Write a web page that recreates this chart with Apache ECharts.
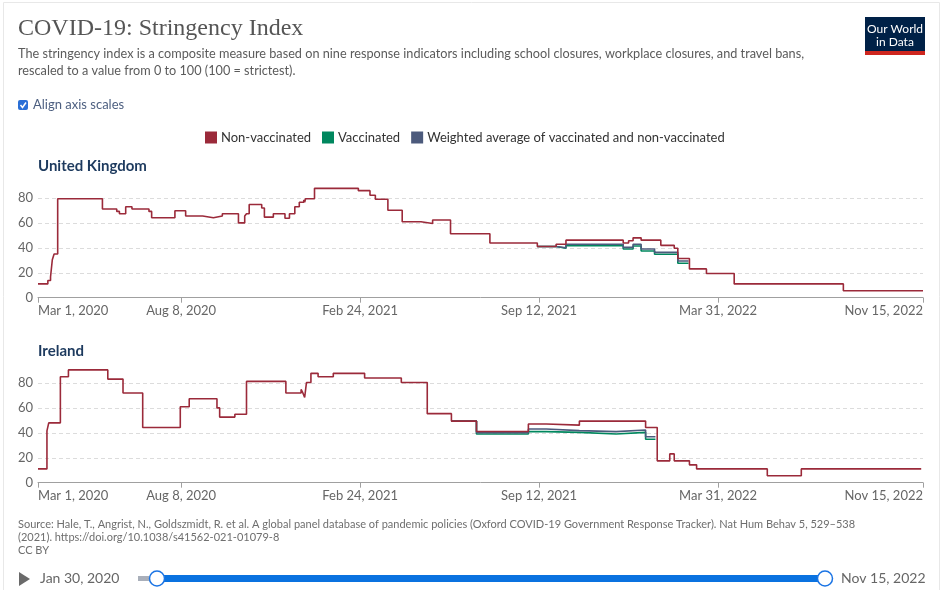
<!DOCTYPE html>
<html><head><meta charset="utf-8">
<script src="https://cdn.jsdelivr.net/npm/echarts@6/dist/echarts.min.js"></script>
<style>html,body{margin:0;padding:0;background:#fff;}#c{width:943px;height:590px;}</style>
</head><body><div id="c"></div>
<script>
// ---------- data ----------
const seriesNames = ['Non-vaccinated', 'Vaccinated', 'Weighted average of vaccinated and non-vaccinated'];
const countries = ['United Kingdom', 'Ireland'];
const xTickDates = ['2020-03-01', '2020-08-08', '2021-02-24', '2021-09-12', '2022-03-31', '2022-11-15'];
const xRange = ['2020-03-01', '2022-11-15'];
const yTicks = [0, 20, 40, 60, 80];

const ukNonVacc = [['2020-03-01',11.11],['2020-03-12',13.89],['2020-03-15',16.67],['2020-03-17',30.56],['2020-03-19',35.19],['2020-03-23',79.63],['2020-05-12',71.3],['2020-05-28',69.44],['2020-05-31',67.59],['2020-06-07',73.15],['2020-06-14',71.3],['2020-07-03',69.44],['2020-07-06',64.35],['2020-08-01',69.91],['2020-08-13',65.74],['2020-09-01',64.35],['2020-09-13',65.74],['2020-09-23',67.59],['2020-10-11',60.19],['2020-10-18',65.74],['2020-10-20',67.59],['2020-10-23',75.0],['2020-11-06',72.22],['2020-11-09',64.81],['2020-11-19',67.59],['2020-12-02',63.89],['2020-12-07',67.59],['2020-12-13',73.15],['2020-12-18',76.85],['2020-12-23',78.7],['2020-12-24',76.85],['2020-12-25',79.63],['2021-01-04',87.96],['2021-02-22',86.11],['2021-03-07',82.41],['2021-03-13',79.17],['2021-03-27',70.37],['2021-04-12',61.11],['2021-05-03',59.72],['2021-05-16',62.5],['2021-06-05',51.39],['2021-07-19',43.98],['2021-09-10',41.2],['2021-10-01',43.06],['2021-10-12',46.3],['2021-12-15',43.98],['2021-12-21',45.83],['2021-12-26',48.15],['2022-01-04',46.3],['2022-01-26',42.13],['2022-02-10',39.81],['2022-02-14',31.48],['2022-02-27',23.15],['2022-03-18',19.44],['2022-04-18',11.11],['2022-08-18',5.56],['2022-11-15',5.56]];
const ukVacc = [['2021-09-10',41.2],['2021-10-01',39.81],['2021-10-12',41.9],['2021-12-15',39.2],['2021-12-26',41.6],['2022-01-04',37.6],['2022-01-19',34.9],['2022-02-14',27.7],['2022-02-26',27.7]];
const ukWeighted = [['2021-09-10',41.2],['2021-10-01',40.2],['2021-10-12',43.0],['2021-12-15',40.5],['2021-12-26',43.0],['2022-01-04',39.2],['2022-01-19',36.5],['2022-02-14',29.5],['2022-02-26',29.5]];

const ieNonVacc = [['2020-03-01',11.11],['2020-03-11',41.67],['2020-03-13',48.15],['2020-03-26',85.19],['2020-04-04',90.74],['2020-05-18',83.33],['2020-06-04',72.22],['2020-06-26',44.44],['2020-08-07',61.11],['2020-08-17',67.59],['2020-09-17',60.19],['2020-09-20',52.78],['2020-10-07',55.09],['2020-10-20',81.48],['2020-12-03',72.22],['2020-12-20',75.0],['2020-12-22',72.22],['2020-12-24',68.52],['2020-12-26',80.56],['2020-12-31',87.96],['2021-01-08',85.19],['2021-01-25',87.96],['2021-03-01',84.26],['2021-04-11',80.56],['2021-05-10',55.56],['2021-06-06',49.54],['2021-07-04',41.2],['2021-08-31',47.22],['2021-09-20',46.3],['2021-10-27',49.54],['2022-01-09',44.44],['2022-01-22',17.59],['2022-02-05',23.15],['2022-02-10',17.59],['2022-02-27',14.35],['2022-03-07',11.11],['2022-05-25',5.56],['2022-07-02',11.11],['2022-11-13',11.11]];
const ieVacc = [['2021-06-06',49.54],['2021-07-04',39.2],['2021-08-31',41.1],['2021-09-20',40.5],['2021-10-27',39.2],['2021-12-07',40.5],['2022-01-09',34.9],['2022-01-20',34.9]];
const ieWeighted = [['2021-06-06',49.54],['2021-07-04',40.3],['2021-08-31',43.2],['2021-09-20',41.9],['2021-10-27',41.1],['2021-12-07',42.4],['2022-01-09',37.0],['2022-01-20',37.0]];

const sourceLines = [
  'Source: Hale, T., Angrist, N., Goldszmidt, R. et al. A global panel database of pandemic policies (Oxford COVID-19 Government Response Tracker). Nat Hum Behav 5, 529–538',
  '(2021). https://doi.org/10.1038/s41562-021-01079-8',
  'CC BY'
];
const timelineLabels = ['Jan 30, 2020', 'Nov 15, 2022'];

// ---------- helpers ----------
const colors = { 'Non-vaccinated': '#9b2a3a', 'Vaccinated': '#00875e', 'Weighted average of vaccinated and non-vaccinated': '#4c5a7c' };
const months = ['Jan','Feb','Mar','Apr','May','Jun','Jul','Aug','Sep','Oct','Nov','Dec'];
function t(s) { const p = s.split('-').map(Number); return Date.UTC(p[0], p[1] - 1, p[2]); }
function fmt(v) { const d = new Date(v); return months[d.getUTCMonth()] + ' ' + d.getUTCDate() + ', ' + d.getUTCFullYear(); }
function toData(arr) { return arr.map(p => [t(p[0]), p[1]]); }

const FONT = 'Lato, "Noto Sans", sans-serif';
const panelTops = [173.4, 358.4];
const panelH = 124.3;

const grids = panelTops.map(top => ({ left: 38, right: 20, top: top, height: panelH, outerBoundsMode: 'none', containLabel: false }));
const xAxes = panelTops.map((_, i) => ({
  type: 'value', gridIndex: i, min: t(xRange[0]), max: t(xRange[1]), scale: true,
  axisLine: { show: true, lineStyle: { color: '#a0a0a0', width: 1 } },
  axisTick: { show: true, length: 5, lineStyle: { color: '#a0a0a0' }, customValues: xTickDates.map(t) },
  axisLabel: { customValues: xTickDates.map(t), formatter: fmt, color: '#666', fontSize: 13, fontFamily: FONT, margin: 7, alignMinLabel: 'left', alignMaxLabel: 'right', hideOverlap: false },
  splitLine: { show: false }
}));
const yAxes = panelTops.map((_, i) => ({
  type: 'value', gridIndex: i, min: 0, max: 100, interval: 20,
  axisLine: { show: false }, axisTick: { show: false },
  axisLabel: { color: '#666', fontSize: 13, fontFamily: FONT, margin: 5, showMaxLabel: false },
  splitLine: { show: true, showMaxLine: false, showMinLine: false, lineStyle: { color: '#dcdcdc', type: [4, 3], width: 1 } }
}));

function lineSeries(name, arr, idx, z) {
  return { name: name, type: 'line', step: 'end', xAxisIndex: idx, yAxisIndex: idx, data: toData(arr),
    showSymbol: false, symbol: 'none', z: z, silent: true, animation: false,
    itemStyle: { color: colors[name] },
    lineStyle: { color: colors[name], width: 1.6 } };
}
const series = [
  lineSeries(seriesNames[1], ukVacc, 0, 2), lineSeries(seriesNames[2], ukWeighted, 0, 3), lineSeries(seriesNames[0], ukNonVacc, 0, 4),
  lineSeries(seriesNames[1], ieVacc, 1, 2), lineSeries(seriesNames[2], ieWeighted, 1, 3), lineSeries(seriesNames[0], ieNonVacc, 1, 4)
];

const txt = (x, y, text, style) => ({ type: 'text', left: x, top: y, silent: true, style: Object.assign({ text: text, fontFamily: FONT, fontSize: 13, fill: '#5b5b5b' }, style) });

const graphic = [
  { type: 'rect', shape: { x: 3.5, y: 2.5, width: 936, height: 600 }, style: { fill: 'none', stroke: '#e8e8e8', lineWidth: 1 }, silent: true, z: -10 },
  txt(18, 17, 'COVID-19: Stringency Index', { fontFamily: '"Liberation Serif", "DejaVu Serif", serif', fontSize: 24, fill: '#555' }),
  txt(18, 47, 'The stringency index is a composite measure based on nine response indicators including school closures, workplace closures, and travel bans,', { fontSize: 12.7 }),
  txt(18, 64, 'rescaled to a value from 0 to 100 (100 = strictest).', { fontSize: 12.7 }),
  { type: 'rect', shape: { x: 865, y: 17, width: 60, height: 35 }, style: { fill: '#002147' }, silent: true },
  { type: 'rect', shape: { x: 865, y: 51, width: 60, height: 4 }, style: { fill: '#ce261e' }, silent: true },
  { type: 'text', x: 895, y: 29, silent: true, style: { text: 'Our World', fontFamily: FONT, fontSize: 12, fill: '#fff', align: 'center', verticalAlign: 'middle' } },
  { type: 'text', x: 895, y: 42, silent: true, style: { text: 'in Data', fontFamily: FONT, fontSize: 12, fill: '#fff', align: 'center', verticalAlign: 'middle' } },
  { type: 'rect', shape: { x: 18, y: 100, width: 10, height: 10, r: 2 }, style: { fill: '#2a6fd6' }, silent: true },
  { type: 'polyline', shape: { points: [[20.5, 105], [22.5, 107.5], [26, 102.5]] }, style: { stroke: '#fff', lineWidth: 1.5, fill: 'none' }, silent: true },
  txt(33, 98, 'Align axis scales', { fill: '#4d5f80' }),
  txt(38, 159, countries[0], { fontSize: 15, fontWeight: 'bold', fill: '#1d3a5e' }),
  txt(38, 344, countries[1], { fontSize: 15, fontWeight: 'bold', fill: '#1d3a5e' }),
  txt(18, 519, sourceLines[0], { fontSize: 11, fill: '#6e6e6e' }),
  txt(18, 532, sourceLines[1], { fontSize: 11, fill: '#6e6e6e' }),
  txt(18, 545, sourceLines[2], { fontSize: 11, fill: '#6e6e6e' }),
  { type: 'polygon', shape: { points: [[19, 572], [30, 579], [19, 586]] }, style: { fill: '#6a6a6a' }, silent: true },
  txt(40, 571, timelineLabels[0], { fontSize: 14, fill: '#666' }),
  { type: 'rect', shape: { x: 138, y: 576, width: 22, height: 5 }, style: { fill: '#a9afba' }, silent: true },
  { type: 'rect', shape: { x: 157, y: 575, width: 668, height: 7 }, style: { fill: '#0a72e0' }, silent: true },
  { type: 'circle', shape: { cx: 157, cy: 578.5, r: 7.5 }, style: { fill: '#fff', stroke: '#1b74e4', lineWidth: 1.5 }, silent: true },
  { type: 'circle', shape: { cx: 825, cy: 578.5, r: 7.5 }, style: { fill: '#fff', stroke: '#1b74e4', lineWidth: 1.5 }, silent: true },
  txt(841, 571, timelineLabels[1], { fontSize: 14, fill: '#666' })
];

const chart = echarts.init(document.getElementById('c'), null, { renderer: 'canvas' });
chart.setOption({
  animation: false,
  backgroundColor: '#fff',
  legend: {
    data: seriesNames, left: 205, top: 131, padding: 0, icon: 'rect', itemWidth: 12, itemHeight: 12, itemGap: 11,
    textStyle: { fontFamily: FONT, fontSize: 13, color: '#333', padding: [0, 0, 0, -1] }, selectedMode: false
  },
  grid: grids, xAxis: xAxes, yAxis: yAxes, series: series, graphic: graphic
});
</script></body></html>
